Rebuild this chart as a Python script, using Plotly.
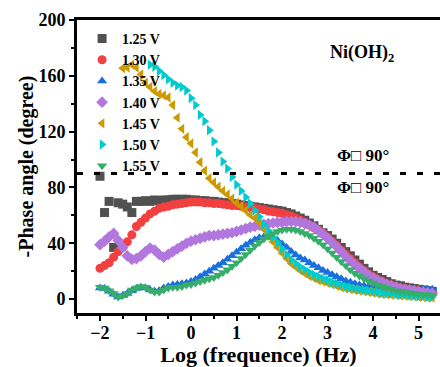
import plotly.graph_objects as go

# log10 of the measurement frequency (Hz), 10 points per decade
log_freq = [
    -2.0, -1.9, -1.8, -1.7, -1.6, -1.5, -1.4, -1.3, -1.2, -1.1,
    -1.0, -0.9, -0.8, -0.7, -0.6, -0.5, -0.4, -0.3, -0.2, -0.1,
    0.0, 0.1, 0.2, 0.3, 0.4, 0.5, 0.6, 0.7, 0.8, 0.9,
    1.0, 1.1, 1.2, 1.3, 1.4, 1.5, 1.6, 1.7, 1.8, 1.9,
    2.0, 2.1, 2.2, 2.3, 2.4, 2.5, 2.6, 2.7, 2.8, 2.9,
    3.0, 3.1, 3.2, 3.3, 3.4, 3.5, 3.6, 3.7, 3.8, 3.9,
    4.0, 4.1, 4.2, 4.3, 4.4, 4.5, 4.6, 4.7, 4.8, 4.9,
    5.0, 5.1, 5.2, 5.3,
]

potentials = ["1.25 V", "1.30 V", "1.35 V", "1.40 V", "1.45 V", "1.50 V", "1.55 V"]

# -phase angle (degree) for each potential
phase_125 = [
    88, 62, 70, 37, 69, 68, 66, 62, 70, 70,
    70.5, 70, 71, 70.5, 71, 71, 71.5, 71.5, 71.5, 71.5,
    71, 71, 70.5, 70.5, 70, 70, 69.5, 69, 69, 68.5,
    68, 67.5, 67, 66.5, 66, 65.5, 65, 64.5, 64, 63.5,
    63, 62, 61, 59.5, 58, 56.5, 54.5, 52.5, 50, 47.5,
    45.5, 43, 40, 37, 34, 31, 28, 25, 22, 19.5,
    17, 15.5, 14, 12.5, 11, 10, 9.5, 8.5, 8, 7.5,
    7, 6.5, 6, 5.5,
]
phase_130 = [
    22, 24, 26, 30, 34, 37, 41, 46, 52, 55,
    58, 61, 63, 65, 66, 66.5, 67.5, 68, 68.5, 69,
    69.5, 69.5, 69.5, 69, 69, 68.5, 68.5, 68, 67.5, 67,
    67, 66.5, 66, 65.5, 65, 64.5, 64, 63, 62.5, 62,
    61.5, 60.5, 59.5, 58, 56.5, 55, 53, 51, 49.5, 47,
    44.5, 41.5, 38.5, 35, 32, 29, 26, 23, 20.5, 18,
    16, 14, 12.5, 11, 10, 9, 8, 7.5, 7, 6.5,
    6, 5.5, 5, 4.5,
]
phase_135 = [
    8, 7.5, 5.5, 3.5, 1.5, 2.5, 4, 6, 7.5, 8.5,
    8, 6.5, 5.5, 6, 8, 9, 10, 10.5, 11, 11.5,
    12.5, 14, 16, 18, 20, 22, 24, 26, 28.5, 31,
    33.5, 36, 38.5, 40.5, 42.5, 44, 44.5, 44.5, 44, 42,
    39.5, 37, 34, 31.5, 29.5, 28, 26, 24, 22.5, 20.5,
    19, 17.5, 16, 14.5, 13, 12, 11, 10, 9.5, 9,
    8.5, 8, 8, 7.5, 7.5, 7.5, 7, 7, 7, 7,
    7, 7, 7, 7,
]
phase_140 = [
    39, 41.5, 44.5, 47, 42, 37, 31, 28.5, 29, 31,
    34, 36.5, 35, 32, 30, 32, 34, 36, 38, 40,
    41.5, 42.5, 43.5, 44.5, 45.5, 45.5, 46, 46.5, 47, 47.5,
    48.5, 49.5, 50.5, 51.5, 52, 53, 53.5, 54, 54.5, 55,
    55, 55.5, 55.5, 55.5, 55, 54, 53, 51.5, 49, 46.5,
    43.5, 40.5, 37.5, 34, 30.5, 27.5, 24.5, 22, 19.5, 17,
    15, 13.5, 12, 10.5, 9.5, 8.5, 7.5, 7, 6.5, 6,
    5.5, 5, 4.5, 4,
]
phase_145 = [
    None, None, None, None, None, 165.5, 166, 168, 166, 161,
    155, 152, 149, 147, 146, 144.5, 139, 130, 122, 116,
    111.5, 105, 98, 92, 86.5, 83.5, 80.5, 77.5, 75, 72,
    69, 66.5, 63.5, 60.5, 58, 55, 50, 45.5, 41, 37,
    33, 29, 25.5, 23, 20.5, 18.5, 16.5, 15, 13.5, 12.5,
    11.5, 10.5, 9.5, 8.5, 7.5, 7, 6.5, 6, 5.5, 5,
    4.5, 4, 3.5, 3.5, 3, 3, 2.5, 2.5, 2, 2,
    1.5, 1.5, 1, 1,
]
phase_150 = [
    None, None, None, None, None, None, None, None, None, None,
    None, 168, 166.5, 163.5, 160.5, 157.5, 155, 153, 152, 149.5,
    144, 139, 132, 127.5, 121, 113, 105, 98.5, 93.5, 87.5,
    82, 77.5, 73, 68.5, 63.5, 59, 53.5, 49, 44.5, 40.5,
    36, 32, 28, 25.5, 23, 21, 19, 17.5, 16, 14.5,
    13.5, 12, 11, 10, 9, 8.5, 7.5, 7, 6.5, 6,
    5.5, 5, 4.5, 4, 4, 3.5, 3, 3, 2.5, 2.5,
    2, 2, 1.5, 1.5,
]
phase_155 = [
    8.5, 8, 6, 4, 1.5, 2.5, 4, 6.5, 8, 9,
    8.5, 6.5, 5, 5, 6.5, 8, 8.5, 8.5, 9, 10,
    10.5, 11.5, 12.5, 13.5, 14.5, 15.5, 17, 19, 21, 23.5,
    26, 29, 32, 35, 38, 40.5, 43, 45, 47, 48.5,
    49.5, 50, 50, 49.5, 48.5, 47, 45.5, 43.5, 41.5, 39,
    36, 33, 30, 27, 24, 21, 18.5, 16.5, 14.5, 13,
    11.5, 10, 9, 8, 7, 6, 5.5, 5, 4.5, 4,
    3.5, 3, 3, 2.5,
]

series = [phase_125, phase_130, phase_135, phase_140, phase_145, phase_150, phase_155]
colors = ["#515151", "#F14040", "#1A6FDF", "#B177DE", "#CC9900", "#00CBCC", "#37AD6B"]
symbols = ["square", "circle", "triangle-up", "diamond",
           "triangle-left", "triangle-right", "triangle-down"]

x_ticks = [-2, -1, 0, 1, 2, 3, 4, 5]
y_ticks = [0, 40, 80, 120, 160, 200]
ideal_phase = 90

FONT = "Liberation Serif"

fig = go.Figure()
for name, vals, col, sym in zip(potentials, series, colors, symbols):
    fig.add_trace(go.Scatter(
        x=log_freq, y=vals, name=name, mode="markers",
        marker=dict(symbol=sym, size=9, color=col, line=dict(width=0)),
    ))

# reference line at 90 degrees
fig.add_shape(type="line", xref="paper", x0=0, x1=1, yref="y",
              y0=ideal_phase, y1=ideal_phase,
              line=dict(color="black", width=3, dash="6px,11px"))

fig.add_annotation(x=0.879, y=0.932, xref="paper", yref="paper",
                   text="Ni(OH)<sub>2</sub>", showarrow=False,
                   font=dict(family=FONT, size=18, color="black", weight="bold"))
fig.add_annotation(x=0.865, y=0.536, xref="paper", yref="paper",
                   text="Φ□ 90°", showarrow=False,
                   font=dict(family=FONT, size=17, color="black", weight="bold"))
fig.add_annotation(x=0.865, y=0.43, xref="paper", yref="paper",
                   text="Φ□ 90°", showarrow=False,
                   font=dict(family=FONT, size=17, color="black", weight="bold"))

axis_font = dict(family=FONT, size=18, color="black", weight="bold")

fig.update_layout(
    width=440, height=367,
    margin=dict(l=77, r=0, t=20, b=54),
    paper_bgcolor="white", plot_bgcolor="white",
    showlegend=True,
    legend=dict(x=0.014, y=0.99, xanchor="left", yanchor="top",
                bgcolor="rgba(0,0,0,0)", borderwidth=0,
                font=dict(family=FONT, size=14, color="black", weight="bold"),
                tracegroupgap=0),
    xaxis=dict(
        range=[-2.505, 5.47], tickvals=x_ticks, automargin=False,
        showline=True, linecolor="black", linewidth=3, mirror=True,
        ticks="outside", ticklen=5, tickwidth=2, tickcolor="black",
        ticklabelstandoff=-4,
        minor=dict(ticks="outside", ticklen=3, tickwidth=2, tickcolor="black", dtick=0.5),
        showgrid=False, zeroline=False,
        tickfont=axis_font,
        title=dict(text="Log (frequence) (Hz)",
                   font=dict(family=FONT, size=22, color="black", weight="bold"),
                   standoff=4),
    ),
    yaxis=dict(
        range=[-10, 200], tickvals=y_ticks, automargin=False,
        showline=True, linecolor="black", linewidth=3, mirror=False,
        ticks="outside", ticklen=5, tickwidth=2, tickcolor="black",
        minor=dict(ticks="outside", ticklen=3, tickwidth=2, tickcolor="black", dtick=20),
        showgrid=False, zeroline=False,
        tickfont=axis_font,
        title=dict(text="-Phase angle (degree)",
                   font=dict(family=FONT, size=20, color="black", weight="bold"),
                   standoff=0),
    ),
)

fig.write_html("out.html")
